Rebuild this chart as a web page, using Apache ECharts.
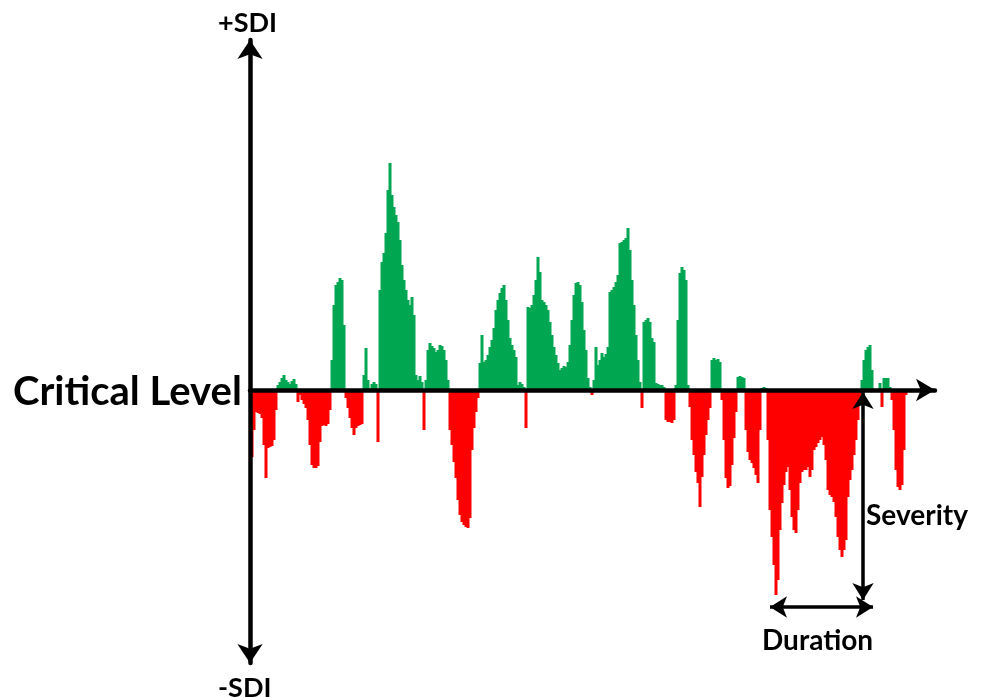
<!DOCTYPE html>
<html><head><meta charset="utf-8">
<script src="https://cdn.jsdelivr.net/npm/echarts@6/dist/echarts.min.js"></script>
<style>html,body{margin:0;padding:0;background:#fff}#c{width:988px;height:697px}</style>
</head><body><div id="c"></div>
<script>
// SDI values per time step (t = 1, 2, 3, ...), relative to the critical level (0)
const sdiValues = [
 -67,-40,-22,-23,-24,-28,-55,-88,-58,-57,-56,-50,-20, 5, 8,12,15,10, 8, 6,
   9, 11, 6,-12, -5,-10,-14,-18,-30,-55,-75,-78,-78,-76,-52,-36,-35,-36,-34,-20,
  30, 85,105,108,112,110, 65, -8,-18,-28,-38,-45,-38,-36,-35,-34, 15, 42, 10, 2,
   6,  8,  6,-52,100,128,137,157,200,227,195,183,175,168,150,125,110,100, 90, 85,
  93, 75, 15, 10, 14,  8,-40, 10, 40, 47, 44, 42, 38, 40, 45, 44, 40, 30, 10,-40,
 -55,-72,-88,-110,-125,-132,-135,-137,-138,-128,-60,-38,-22,-8, 27, 55, 28, 30, 35, 43,
  50, 62, 80, 90, 97,102,105, 90, 70, 52, 45, 40, 33,  5,  8,  6,  3,-38, 83, 82,
  85, 95,110,133,118, 90, 88, 85, 80, 68, 55, 43, 35, 27, 20, 22, 24, 23, 28, 45,
  70, 95,107,108,105, 88, 60, 40, 12,  3, -5, 10, 43, 25, 30, 37, 33, 36, 43, 98,
 100,103,108,115,147,148,150,152,162,140,110, 85, 55, 30,  8,-18, 68, 70, 72, 68,
  52, 48,  7,  6,  5,  5,  3,-30,-32,-32,-33,-30,  5, 70,117,123,120,110,  5,-17,
 -50,-65,-82,-93,-117,-87,-65,-45,-30,-18, 30, 32, 30, 31, 28,-10,-50,-88,-98,-96,
 -75,-48,-22, 13, 14, 13, 12,-40,-62,-70,-73,-78,-85,-93,-40,  2,  3,  2,-50,-120,
 -147,-175,-205,-190,-140,-113,-95,-82,-77,-100,-127,-140,-143,-120,-93,-82,-80,-80,-77,-87,
 -80,-60,-57,-53,-50,-47,-55,-70,-100,-105,-107,-112,-127,-147,-160,-167,-160,-150,-107,-90,
 -80,-65,-50,-30, -8, 10, 30, 40, 43, 45, 20,  0,  0,  0,  7,-17, 12, 12, 12,  3,
 -10,-40,-80,-97,-100,-95,-60,-5
];
const axisLabels = { top: '+SDI', bottom: '-SDI', level: 'Critical Level' };
const timeAxisMax = 342.5;
const sdiMin = -273, sdiMax = 350;
// annotation arrows (data coordinates)
const severityArrow = { t: 306.5, from: -2, to: -210, label: 'Severity' };
const durationArrow = { from: 260, to: 311.5, level: -217, label: 'Duration' };

const GREEN = '#00A651', RED = '#FF0000';
const chart = echarts.init(document.getElementById('c'), null, { renderer: 'canvas' });
const barData = sdiValues.map((v, i) => ({ value: [i + 1, v], itemStyle: { color: v >= 0 ? GREEN : RED } }));
const FONT = 'Lato';
chart.setOption({
  animation: false,
  backgroundColor: '#ffffff',
  grid: { left: 250, right: 53, top: 40, bottom: 34 },
  xAxis: {
    type: 'value', min: 0, max: timeAxisMax, z: 5,
    axisLine: { show: true, onZero: true, symbol: ['none', 'arrow'], symbolSize: [17, 19],
      lineStyle: { color: '#000', width: 4.5 } },
    axisTick: { show: false }, axisLabel: { show: false }, splitLine: { show: false }
  },
  yAxis: {
    type: 'value', min: sdiMin, max: sdiMax, z: 5,
    axisLine: { show: true, onZero: false, symbol: ['arrow', 'arrow'], symbolSize: [19, 19],
      lineStyle: { color: '#000', width: 4.5 } },
    axisTick: { show: false }, axisLabel: { show: false }, splitLine: { show: false }
  },
  series: [{
    type: 'bar', data: barData, barWidth: 3, z: 2,
    markLine: {
      silent: true, symbol: ['arrow', 'arrow'], symbolSize: [16, 17], z: 6,
      lineStyle: { color: '#000', width: 3.5, type: 'solid' },
      label: { show: false },
      data: [
        [{ coord: [severityArrow.t, severityArrow.from] }, { coord: [severityArrow.t, severityArrow.to] }],
        [{ coord: [durationArrow.from, durationArrow.level] }, { coord: [durationArrow.to, durationArrow.level] }]
      ]
    }
  }],
  graphic: [
    { type: 'text', left: 218, top: 10, style: { text: axisLabels.top, fontSize: 27, fontWeight: 'bold', fontFamily: FONT, fill: '#000' } },
    { type: 'text', left: 218, top: 675, style: { text: axisLabels.bottom, fontSize: 27, fontWeight: 'bold', fontFamily: FONT, fill: '#000' } },
    { type: 'text', left: 13, top: 372, style: { text: axisLabels.level, fontSize: 40, fontWeight: 'bold', fontFamily: FONT, fill: '#000' } },
    { type: 'text', left: 866, top: 502, style: { text: severityArrow.label, fontSize: 28, fontWeight: 'bold', fontFamily: FONT, fill: '#000' } },
    { type: 'text', left: 762, top: 627, style: { text: durationArrow.label, fontSize: 28, fontWeight: 'bold', fontFamily: FONT, fill: '#000' } }
  ]
});
</script></body></html>
